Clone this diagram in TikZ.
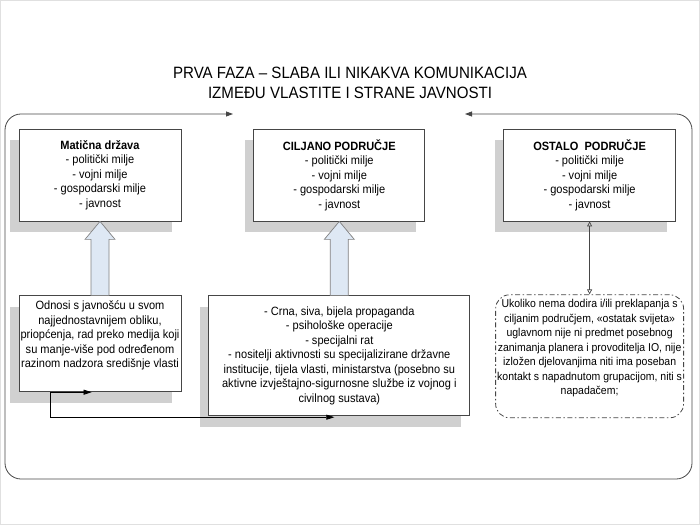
\documentclass[tikz,border=0pt]{standalone}
\usepackage{fontspec}
\setmainfont{Liberation Sans}[FakeStretch=0.92]
\usetikzlibrary{arrows.meta,positioning,shadows,calc}
\definecolor{FrameGray}{RGB}{70,70,70}
\definecolor{ShadowGray}{RGB}{208,208,208}
\definecolor{ArrowBlue}{RGB}{222,232,244}

\begin{document}
\begin{tikzpicture}[
    x=1pt, y=1pt,
    font=\fontsize{12}{14.5}\selectfont,
    field/.style={draw=FrameGray, line width=0.8pt, fill=white, align=center, inner sep=0pt,
                  drop shadow={shadow xshift=-9pt, shadow yshift=-11pt, fill=ShadowGray, opacity=1},
                  append after command={
                    \pgfextra{\draw[FrameGray, line width=0.8pt]
                      ($(\tikzlastnode.south west)+(2.2pt,2.2pt)$) rectangle
                      ($(\tikzlastnode.north east)+(-2.2pt,-2.2pt)$);}}},
    note/.style={draw=FrameGray, line width=0.8pt, rounded corners=14pt,
                 dash pattern=on 5pt off 2.5pt on 1.5pt off 2.5pt, align=center, inner sep=0pt,
                 font=\fontsize{11.4}{14.5}\selectfont},
    blockarr/.style={draw=gray, fill=ArrowBlue, line width=0.7pt},
    arr/.style={-{Triangle[length=8pt, width=5pt]}, line width=0.7pt},
    frame/.style={{Triangle[length=7pt, width=5pt]}-{Triangle[length=7pt, width=5pt]},
                  draw=FrameGray, line width=0.8pt, rounded corners=16pt},
    link/.style={{Triangle[open, length=5pt, width=5pt]}-{Triangle[open, length=5pt, width=5pt]},
                 draw=FrameGray, line width=0.7pt}
  ]
    \useasboundingbox (0,0) rectangle (700,525);
    \draw[black!12] (0.5,0.5) rectangle (699.5,524.5);

    % Title
    \node[align=center, font=\fontsize{16.4}{20}\selectfont] (title) at (350,442)
      {PRVA FAZA – SLABA ILI NIKAKVA KOMUNIKACIJA\\IZMEĐU VLASTITE I STRANE JAVNOSTI};

    % Upper row
    \node[field, minimum width=162pt, minimum height=92pt] (maticna) at (100,350)
      {\textbf{Matična država}\\- politički milje\\- vojni milje\\- gospodarski milje\\- javnost};
    \node[field, minimum width=171pt, minimum height=92pt, right=72pt of maticna] (ciljano)
      {\textbf{CILJANO PODRUČJE}\\- politički milje\\- vojni milje\\- gospodarski milje\\- javnost};
    \node[field, minimum width=172pt, minimum height=92pt, right=78pt of ciljano] (ostalo)
      {\textbf{OSTALO\ \ PODRUČJE}\\- politički milje\\- vojni milje\\- gospodarski milje\\- javnost};

    % Lower row
    \node[field, minimum width=162pt, minimum height=96pt, below=74pt of maticna] (odnosi)
      {Odnosi s javnošću u svom\\najjednostavnijem obliku,\\priopćenja, rad preko medija koji\\
       su manje-više pod određenom\\razinom nadzora središnje vlasti\\ \strut};
    \node[field, minimum width=261pt, minimum height=120pt, below=74pt of ciljano] (propag)
      {- Crna, siva, bijela propaganda\\- psihološke operacije\\- specijalni rat\\
       - nositelji aktivnosti su specijalizirane državne\\
       institucije, tijela vlasti, ministarstva (posebno su\\
       aktivne izvještajno-sigurnosne službe iz vojnog i\\civilnog sustava)};
    \node[note, minimum width=188pt, minimum height=123pt, below=73pt of ostalo] (ostatak)
      {Ukoliko nema dodira i/ili preklapanja s\\ciljanim područjem, «ostatak svijeta»\\
       uglavnom nije ni predmet posebnog\\zanimanja planera i provoditelja IO, nije\\
       izložen djelovanjima niti ima poseban\\kontakt s napadnutom grupacijom, niti s\\
       napadačem;\\ \strut};

    % Outer frame
    \coordinate (tipL) at (233,411);
    \coordinate (tipR) at (465,411);
    \draw[frame] (tipR) -| (692,46) -| (5,411) -- (tipL);

    % Block arrows
    \foreach \a/\b in {odnosi/maticna, propag/ciljano}
      \draw[blockarr] ($(\a.north)+(-9,0)$) -- ($(\b.south)+(-9,-18)$) -- ++(-6,0)
        -- (\b.south) -- ($(\b.south)+(15,-18)$) -- ++(-6,0) -- ($(\a.north)+(9,0)$) -- cycle;

    \draw[link] (ostalo.south) -- (ostatak.north);

    % Connectors along the bottom
    \coordinate (tap) at ($(odnosi.south west)+(32,0)$);
    \draw[arr] (tap) -- ++(41,0);
    \draw[arr] (tap) |- ($(propag.south)+(-5,-1)$);
  \end{tikzpicture}
\end{document}
